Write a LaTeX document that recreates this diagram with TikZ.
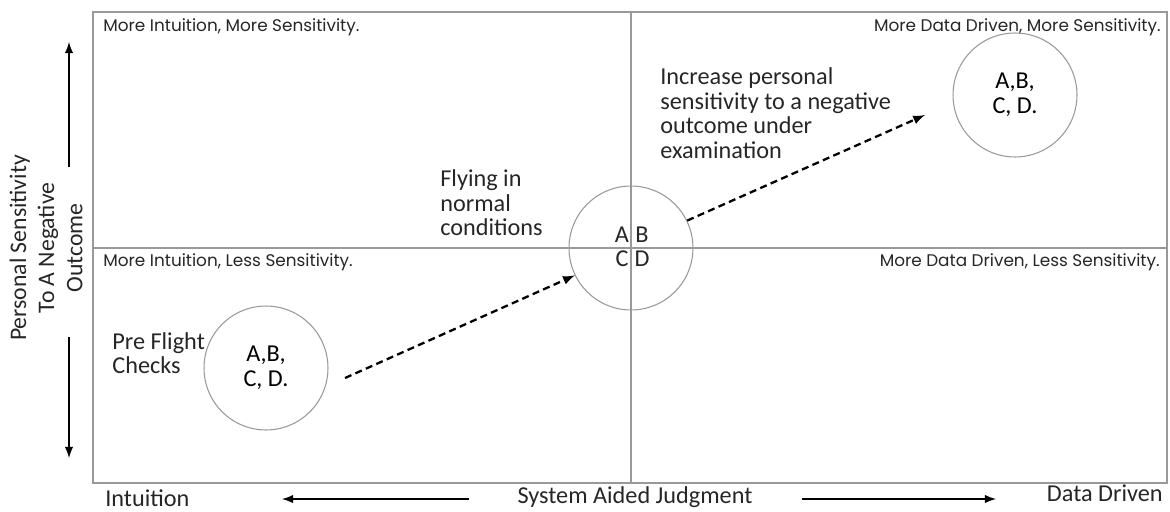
\documentclass[tikz,border=0pt]{standalone}
\usepackage{fontspec}
\setmainfont{Carlito}
\newfontfamily\quadfont{Poppins}
\tikzset{
  frame/.style={draw=gray!80, line width=0.6pt},
  blob/.style={circle, draw=gray!80, line width=0.6pt, minimum size=2.48cm, inner sep=0pt, align=center, font=\fontsize{13.8}{14.2}\selectfont},
  quad/.style={font=\quadfont\fontsize{9.6}{11}\selectfont, text=black!85, inner sep=0pt},
  lbl/.style={font=\fontsize{13.8}{14}\selectfont, align=left, inner sep=0pt, text=black!85},
  move/.style={dash pattern=on 4pt off 2.5pt, line width=1.3pt, -latex},
  axis/.style={line width=1.2pt, -latex}
}
\begin{document}
\begin{tikzpicture}[x=0.02cm, y=-0.02cm]
\useasboundingbox (0,0) rectangle (1170,511);
\draw[frame] (93,12) rectangle (1167,483);
\draw[frame] (631,12) -- (631,483);
\draw[frame] (93,248) -- (1167,248);
% quadrant names
\node[quad, anchor=west] (q1) at (103,27) {More Intuition, More Sensitivity.};
\node[quad, anchor=west] (q3) at (103,262) {More Intuition, Less Sensitivity.};
\node[quad, anchor=east] (q2) at (1161,27) {More Data Driven, More Sensitivity.};
\node[quad, anchor=east] (q4) at (1160,262) {More Data Driven, Less Sensitivity.};
% circles
\node[blob] (pfc) at (266,368) {A,B,\\C, D.};
\node[blob] (mid) at (631,248) {};
\node[blob] (top) at (1015,95) {A,B,\\C, D.};
\node[lbl] (a) at (622,235) {A};
\node[lbl] (b) at (642,235) {B};
\node[lbl] (c) at (622,259) {C};
\node[lbl] (d) at (642,259) {D};
\node[lbl, anchor=west] (pre) at (112,353) {Pre Flight\\Checks};
\node[lbl, anchor=west] (fly) at (440,203) {Flying in\\normal\\conditions};
\node[lbl, anchor=west] (inc) at (660,113) {Increase personal\\sensitivity to a negative\\outcome under\\examination};
% moves
\coordinate (s1) at (345,378);
\coordinate (e2) at (925,115);
\draw[move] (s1) -- (mid.206);
\draw[move] (mid.26) -- (e2);
% axes
\node[lbl, rotate=90, align=center, font=\fontsize{13.5}{16}\selectfont] (ylab) at (46,248) {Personal Sensitivity\\To A Negative\\Outcome};
\coordinate (u0) at (69,167);
\coordinate (u1) at (69,42);
\coordinate (d0) at (69,337);
\coordinate (d1) at (69,458);
\draw[axis] (u0) -- (u1);
\draw[axis] (d0) -- (d1);
\node[lbl, anchor=west] (int) at (105,498) {Intuition};
\node[lbl] (sys) at (635,497) {System Aided Judgment};
\node[lbl, anchor=east] (dat) at (1163,493) {Data Driven};
\coordinate (l0) at (469,499);
\coordinate (l1) at (282,499);
\coordinate (r0) at (802,499);
\coordinate (r1) at (996,499);
\draw[axis] (l0) -- (l1);
\draw[axis] (r0) -- (r1);
\end{tikzpicture}
\end{document}
